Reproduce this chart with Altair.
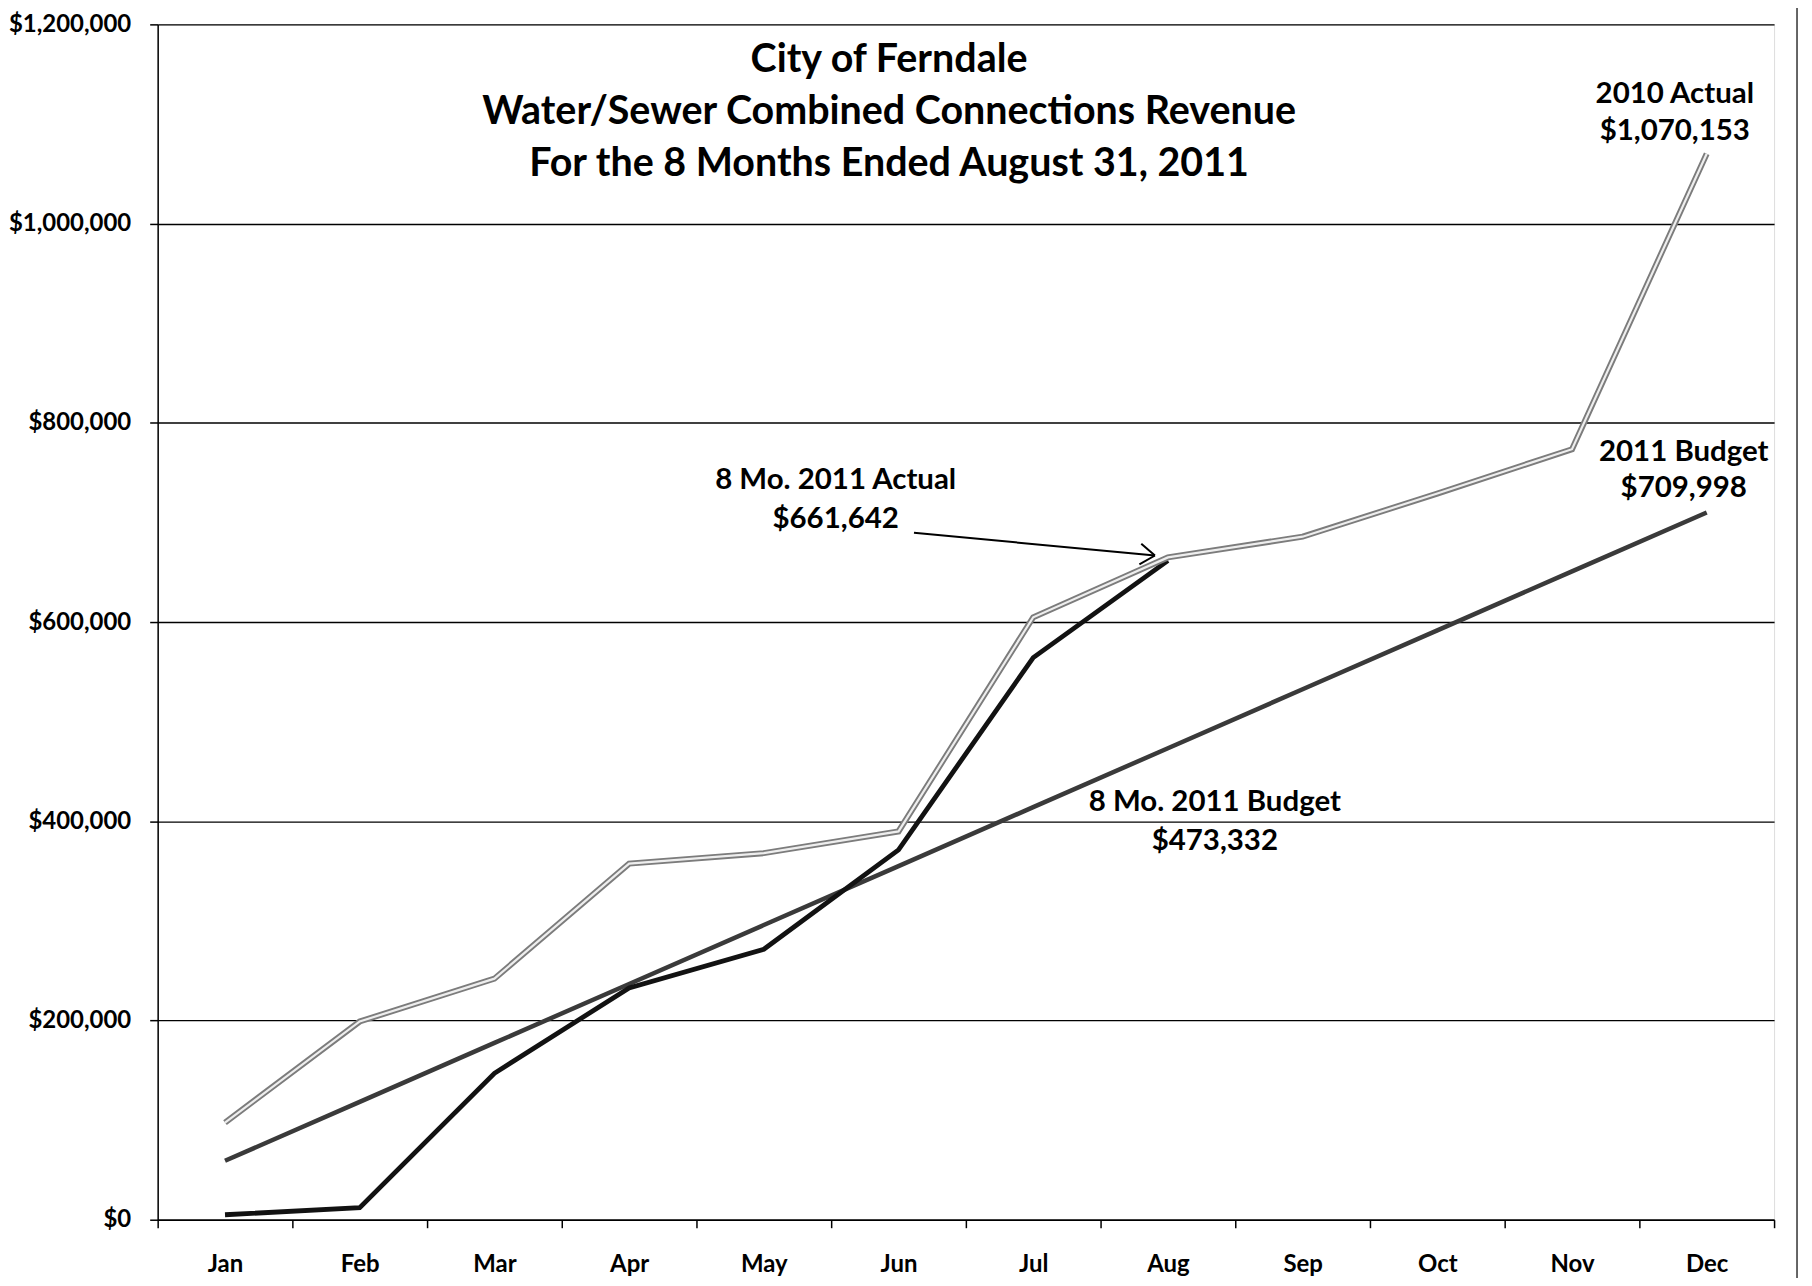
import altair as alt
import pandas as pd

months = ["Jan", "Feb", "Mar", "Apr", "May", "Jun", "Jul", "Aug", "Sep", "Oct", "Nov", "Dec"]
actual_2010 = [97500, 199000, 242000, 357500, 368000, 389800, 604800, 664900, 685700, 729000, 773500, 1070153]
actual_2011 = [5000, 12000, 147000, 232700, 271500, 371300, 564300, 661642]
budget_2011 = [59167, 118333, 177500, 236666, 295833, 354999, 414166, 473332, 532499, 591665, 650832, 709998]
y_ticks = [0, 200000, 400000, 600000, 800000, 1000000, 1200000]

title_lines = ["City of Ferndale", "Water/Sewer Combined Connections Revenue", "For the 8 Months Ended August 31, 2011"]
lbl_2010 = ["2010 Actual", "$1,070,153"]
lbl_budget = ["2011 Budget", "$709,998"]
lbl_8mo_actual = ["8 Mo. 2011 Actual", "$661,642"]
lbl_8mo_budget = ["8 Mo. 2011 Budget", "$473,332"]

df2010 = pd.DataFrame({"month": months, "value": actual_2010})
df2011 = pd.DataFrame({"month": months[:len(actual_2011)], "value": actual_2011})
dfbud = pd.DataFrame({"month": months, "value": budget_2011})

FONT = "Lato"
W, H = 1620, 1198

x_enc = alt.X(
    "month:N",
    sort=months,
    scale=alt.Scale(type="band", domain=months, paddingInner=0, paddingOuter=0),
    axis=alt.Axis(
        title=None, labelAngle=0, tickBand="extent", tickSize=8, tickWidth=1.5,
        tickColor="black", domainColor="black", domainWidth=1.5,
        labelPadding=25, labelFontSize=24, labelFont=FONT, labelFontWeight="bold",
        labelColor="black", grid=False,
    ),
)
y_enc = alt.Y(
    "value:Q",
    scale=alt.Scale(domain=[0, 1200000], nice=False, zero=True),
    axis=alt.Axis(
        title=None, values=y_ticks, format="$,.0f", tickSize=8, tickWidth=1.5,
        tickColor="black", domainColor="black", domainWidth=1.5,
        grid=True, gridColor="black", gridWidth=1.4, gridOpacity=1,
        labelPadding=19, labelFontSize=24, labelFont=FONT, labelFontWeight="bold",
        labelColor="black",
    ),
)

budget_line = alt.Chart(dfbud).mark_line(color="#3a3a3a", strokeWidth=4.5).encode(x=x_enc, y=y_enc)
actual11_line = alt.Chart(df2011).mark_line(color="#121212", strokeWidth=4.8).encode(x=x_enc, y=y_enc)
a10_outer = alt.Chart(df2010).mark_line(color="#7c7c7c", strokeWidth=6).encode(x=x_enc, y=y_enc)
a10_inner = alt.Chart(df2010).mark_line(color="#eeeeee", strokeWidth=2.2).encode(x=x_enc, y=y_enc)


def label(month, value, lines, dx, dy, lh=38, size=29.5):
    d = pd.DataFrame({"month": [month], "value": [value]})
    return alt.Chart(d).mark_text(
        text=lines, font=FONT, fontWeight="bold", fontSize=size, color="black",
        align="center", baseline="middle", lineHeight=lh, dx=dx, dy=dy,
    ).encode(x=alt.X("month:N", sort=months), y="value:Q")


t2010 = label("Dec", actual_2010[-1], lbl_2010, -32, -60, lh=37)
tbud = label("Dec", budget_2011[-1], lbl_budget, -23, -61, lh=37)
t8a = label("Aug", actual_2011[-1], lbl_8mo_actual, -333, -81, lh=39)
t8b = label("Aug", budget_2011[7], lbl_8mo_budget, 47, 54, lh=39)

one = pd.DataFrame({"k": [0]})
title = alt.Chart(one).mark_text(
    text=title_lines, font=FONT, fontWeight="bold", fontSize=39.5, color="black",
    align="center", baseline="middle", lineHeight=52,
).encode(x=alt.value(733), y=alt.value(35.5))

arrow_shaft = alt.Chart(one).mark_rule(color="black", strokeWidth=2).encode(
    x=alt.value(758), y=alt.value(509.6), x2=alt.value(999.5), y2=alt.value(532.3))
barb1 = alt.Chart(one).mark_rule(color="black", strokeWidth=2).encode(
    x=alt.value(999.5), y=alt.value(532.3), x2=alt.value(985.8), y2=alt.value(520.6))
barb2 = alt.Chart(one).mark_rule(color="black", strokeWidth=2).encode(
    x=alt.value(999.5), y=alt.value(532.3), x2=alt.value(983.9), y2=alt.value(541.2))

border = alt.Chart(one).mark_rule(color="#333333", strokeWidth=1.5).encode(
    x=alt.value(1643), y=alt.value(-23), y2=alt.value(1263))

chart = alt.layer(
    budget_line, actual11_line, a10_outer, a10_inner,
    title, t2010, tbud, t8a, t8b, arrow_shaft, barb1, barb2, border,
).properties(
    width=W, height=H,
    autosize=alt.AutoSizeParams(type="none"),
    padding={"left": 150, "top": 15, "right": 30, "bottom": 57},
).configure_view(strokeWidth=0).configure(background="white")

chart.save("out.html", embed_options={"renderer": "svg", "actions": False})
